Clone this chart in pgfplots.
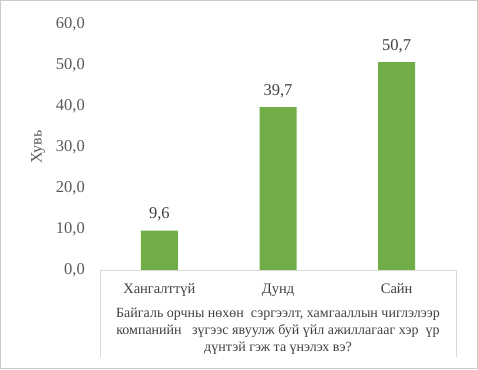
\documentclass[border=0pt]{standalone}
\usepackage{fontspec}
\setmainfont{Liberation Serif}
\usepackage{pgfplots}
\pgfplotsset{compat=1.18}
\definecolor{bargreen}{HTML}{70AD47}
\definecolor{ticktext}{HTML}{595959}
\definecolor{datatext}{HTML}{404040}
\definecolor{boxgray}{HTML}{D9D9D9}
\newcommand{\numfont}{\rmfamily\fontsize{16.5bp}{19bp}\selectfont}
\newcommand{\catfont}{\rmfamily\fontsize{14.5bp}{17bp}\selectfont}
\newcommand{\labfont}{\rmfamily\fontsize{16bp}{19bp}\selectfont}
\newcommand{\txtfont}{\rmfamily\fontsize{14bp}{17bp}\selectfont}
\begin{document}
\begin{tikzpicture}[x=1bp,y=1bp]
\draw[boxgray!85!gray, line width=1bp] (0.5,0.5) rectangle (477.5,368.5);
\begin{axis}[
  name=ax,
  at={(100bp,99bp)}, anchor=south west, scale only axis,
  width=356bp, height=246bp,
  ymin=0, ymax=60, ytick={0,10,...,60},
  xmin=-0.5, xmax=2.5, xtick={0,1,2},
  xticklabels={Хангалттүй,Дунд,Сайн},
  axis line style={draw=none}, major tick length=0pt,
  ybar=0pt, bar width=37bp,
  /pgf/number format/assume math mode=true,
  yticklabel style={/pgf/number format/.cd, fixed, fixed zerofill, precision=1, use comma, /tikz/.cd,
    font=\numfont, text=ticktext, anchor=east, inner sep=0pt, xshift=-15bp},
  xticklabel style={font=\catfont, text=datatext, anchor=base, inner sep=0pt, yshift=-23bp},
  nodes near coords,
  nodes near coords style={/pgf/number format/.cd, fixed, fixed zerofill, precision=1, use comma, /tikz/.cd,
    font=\numfont, text=datatext, anchor=base, inner sep=0pt, yshift=12bp},
  ylabel={Хувь},
  ylabel style={font=\labfont, at={(axis description cs:-0.174,0.5)}, anchor=center, text=ticktext},
  clip=false,
]
\addplot[fill=bargreen, draw=none] coordinates {(0,9.6) (1,39.7) (2,50.7)};
\end{axis}
\draw[boxgray, line width=1bp] (ax.south west) ++(0,-87) -- (ax.south west) -- (ax.south east) -- ++(0,-87);
\node[anchor=base, text=datatext, inner sep=0pt, font=\txtfont] at ([yshift=-47bp]ax.south) {Байгаль орчны нөхөн\ \ сэргээлт, хамгааллын чиглэлээр};
\node[anchor=base, text=datatext, inner sep=0pt, font=\txtfont] at ([yshift=-64bp]ax.south) {компанийн\ \ \ зүгээс явуулж буй үйл ажиллагааг хэр\ \ үр};
\node[anchor=base, text=datatext, inner sep=0pt, font=\txtfont] at ([yshift=-81bp]ax.south) {дүнтэй гэж та үнэлэх вэ?};
\end{tikzpicture}
\end{document}
